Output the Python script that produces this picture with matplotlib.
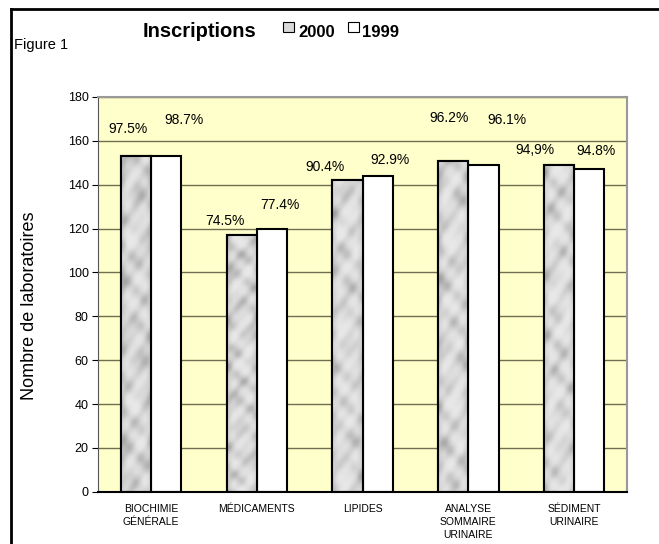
import numpy as np
import matplotlib.pyplot as plt
from matplotlib.lines import Line2D
from matplotlib.patches import Rectangle

# Inscriptions par programme, 2000 vs 1999
categories = ['BIOCHIMIE\nGÉNÉRALE', 'MÉDICAMENTS', 'LIPIDES',
              'ANALYSE\nSOMMAIRE\nURINAIRE', 'SÉDIMENT\nURINAIRE']
labs_2000 = [153, 117, 142, 151, 149]
labs_1999 = [153, 120, 144, 149, 147]
pct_2000 = ['97.5%', '74.5%', '90.4%', '96.2%', '94,9%']
pct_1999 = ['98.7%', '77.4%', '92.9%', '96.1%', '94.8%']

# hand placement of the percentage labels (pixels from bar top centre)
offsets_2000 = [(-8, 27), (-17, 14), (-22, 13), (-4, 43), (-24, 15)]
offsets_1999 = [(18, 36), (8, 24), (12, 16), (24, 45), (7, 18)]

plt.rcParams['font.family'] = ['Liberation Sans', 'DejaVu Sans']

fig = plt.figure(figsize=(6.59, 5.44), dpi=100)
ax = fig.add_axes([0.1492, 0.0961, 0.8018, 0.7256])
ax.set_facecolor('#ffffcc')

x = np.arange(len(categories))
w = 0.287


def marble(seed_shift, h=340, wd=30):
    # blotchy grey pattern built from a few crossed waves
    yy, xx = np.mgrid[0:h, 0:wd].astype(float)
    s = seed_shift
    v = (np.sin(xx * 0.21 + yy * 0.11 + s)
         + 0.8 * np.sin(xx * 0.17 - yy * 0.19 + 2.1 * s)
         + 0.6 * np.sin(yy * 0.07 + 1.7 * np.sin(xx * 0.15 + yy * 0.03 + s))
         + 0.5 * np.sin(xx * 0.43 + yy * 0.29 + 0.7 * s)
         + 0.4 * np.sin(yy * 0.23 - xx * 0.31 + 3.3 * s))
    v = (v - v.min()) / (v.max() - v.min())
    g = 0.91 - 0.24 * v ** 2
    edge = np.minimum(xx, wd - 1 - xx) / wd
    g -= 0.07 * np.clip(0.2 - edge, 0, None) / 0.2
    return g


bars_2000 = ax.bar(x - w / 2, labs_2000, w, color='#d8d8d8',
                   edgecolor='black', linewidth=1.5, zorder=3)
bars_1999 = ax.bar(x + w / 2, labs_1999, w, color='white',
                   edgecolor='black', linewidth=1.5, zorder=3)

for i, b in enumerate(bars_2000):
    x0, y0 = b.get_x(), b.get_y()
    im = ax.imshow(marble(i * 1.9), cmap='gray', vmin=0, vmax=1, aspect='auto',
                   extent=[x0, x0 + b.get_width(), y0, y0 + b.get_height()],
                   zorder=3.5, interpolation='bilinear')
    im.set_clip_path(b)
    # redraw outline on top of the texture
    ax.add_patch(Rectangle((x0, y0), b.get_width(), b.get_height(),
                           fill=False, edgecolor='black', linewidth=1.5, zorder=4))

for bars, texts, offs in [(bars_2000, pct_2000, offsets_2000),
                          (bars_1999, pct_1999, offsets_1999)]:
    for b, t, (dx, dy) in zip(bars, texts, offs):
        ax.annotate(t, (b.get_x() + b.get_width() / 2, b.get_height()),
                    xytext=(dx, dy), textcoords='offset pixels',
                    ha='center', va='center', fontsize=10, zorder=5)

ax.set_xlim(-0.5, len(categories) - 0.5)
ax.set_ylim(0, 180)
ax.set_yticks(np.arange(0, 181, 20))
ax.yaxis.grid(True, color='#6e6e50', linewidth=1.0, zorder=1)
ax.set_axisbelow(True)
ax.set_xticks(x)
ax.set_xticklabels(categories, fontsize=7.5, linespacing=1.35, va='top')
ax.tick_params(axis='x', length=0, pad=9)
ax.tick_params(axis='y', labelsize=9, length=4, pad=3)

for side in ['top', 'right']:
    ax.spines[side].set_color('#999999')
    ax.spines[side].set_linewidth(1.5)
ax.spines['left'].set_color('#555555')
ax.spines['bottom'].set_color('black')
ax.spines['bottom'].set_linewidth(1.5)
ax.spines['bottom'].set_zorder(6)

ax.set_ylabel('Nombre de laboratoires', fontsize=13)
ax.yaxis.set_label_coords(-0.115, 0.472)

# figure frame (top and left edges)
H = 544.0
W = 659.0
fig.add_artist(Line2D([11 / W, 1.0], [1 - 9 / H, 1 - 9 / H], color='black', linewidth=2))
fig.add_artist(Line2D([11 / W, 11 / W], [0, 1 - 9 / H], color='black', linewidth=2))

fig.text(14 / W, 1 - 49 / H, 'Figure 1', fontsize=10.5, va='baseline')
fig.text(143 / W, 1 - 37 / H, 'Inscriptions', fontsize=14.5, fontweight='bold',
         va='baseline')

# legend drawn in the title line
for lx, tx, lab, col in [(283, 298, '2000', '#d9d9d9'), (348, 362, '1999', 'white')]:
    fig.add_artist(Rectangle((lx / W, 1 - 32 / H), 10.5 / W, 10.5 / H,
                             facecolor=col, edgecolor='black', linewidth=0.8,
                             transform=fig.transFigure))
    fig.text(tx / W, 1 - 37 / H, lab, fontsize=12, fontweight='bold', va='baseline')

fig.savefig('out.png', dpi=100)
